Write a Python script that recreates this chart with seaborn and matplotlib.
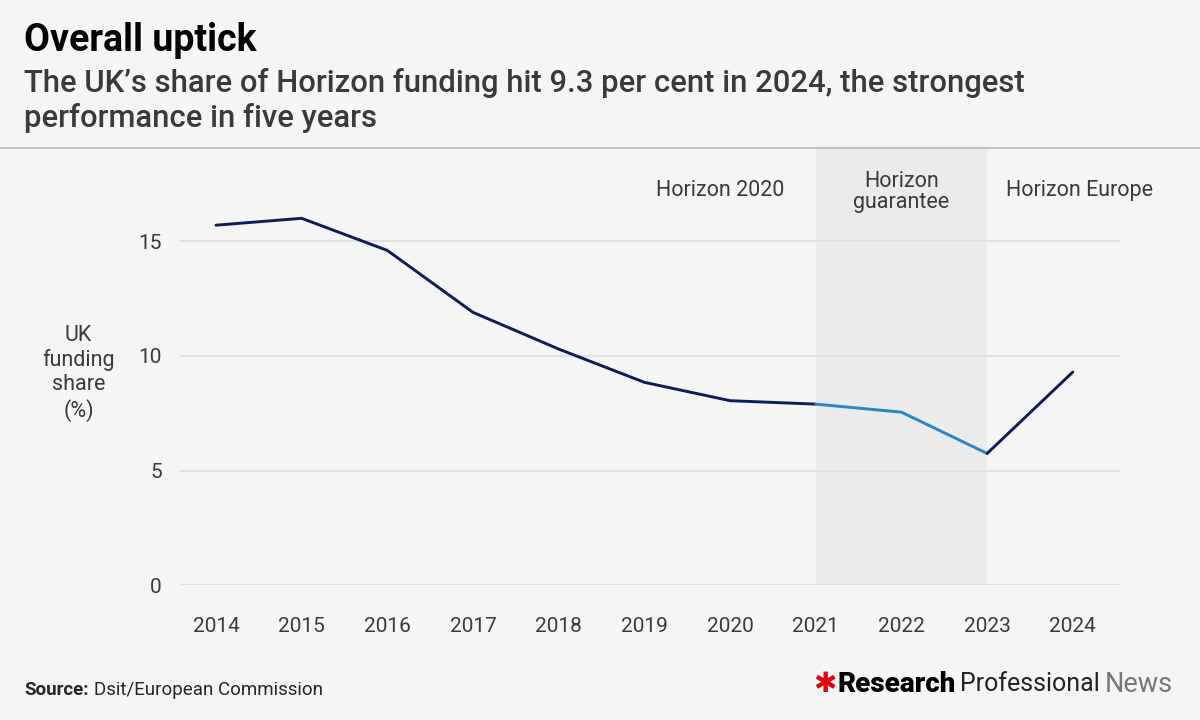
"""Line chart of the UK's share of Horizon funding, 2014-2024
"""

import matplotlib.pyplot as plt
import pandas as pd
import seaborn as sns

years = [2014, 2015, 2016, 2017, 2018, 2019, 2020, 2021, 2022, 2023, 2024]
share = [15.7, 16.0, 14.6, 11.9, 10.3, 8.85, 8.05, 7.9, 7.55, 5.75, 9.3]
# programme each point belongs to when drawing the line segments
segment = ["h2020"] * 8 + ["guarantee"] * 2 + ["europe"]
periods = ["Horizon 2020", "Horizon\nguarantee", "Horizon Europe"]
yticks = [0, 5, 10, 15]

BG = "#f5f5f5"
NAVY = "#0c1d5a"
BLUE = "#2a86c6"
GRID = "#dcdcdc"
TXT = "#3a3a3a"

sns.set_theme(style="white")
plt.rcParams["font.family"] = ["Roboto", "DejaVu Sans"]

df = pd.DataFrame({"year": years, "share": share, "seg": segment})

fig = plt.figure(figsize=(12, 7.2), dpi=100, facecolor=BG)
ax = fig.add_axes([0.15, 0.187, 0.7833, 0.6076], facecolor=BG)

# guarantee period shading
ax.axvspan(2021, 2023, color="#ebebeb", zorder=0, lw=0)

for v in yticks:
    ax.axhline(v, color=GRID, lw=1.1, zorder=1)

# segments: dark up to 2021, light blue 2021-2023, dark 2023-2024
seg1 = df.iloc[0:8]
seg2 = df.iloc[7:10]
seg3 = df.iloc[9:11]
sns.lineplot(data=seg1, x="year", y="share", color=NAVY, lw=2.1, ax=ax, zorder=3)
sns.lineplot(data=seg2, x="year", y="share", color=BLUE, lw=2.1, ax=ax, zorder=3)
sns.lineplot(data=seg3, x="year", y="share", color=NAVY, lw=2.1, ax=ax, zorder=3)

ax.set_xlim(2013.58, 2024.55)
ax.set_ylim(0, 19.07)
for s in ax.spines.values():
    s.set_visible(False)
ax.set_xticks(years)
ax.set_xticklabels([str(y) for y in years])
ax.set_yticks(yticks)
ax.tick_params(axis="x", length=14, width=1, color=GRID, pad=9,
               labelsize=15, labelcolor=TXT)
ax.tick_params(axis="y", length=0, pad=13, labelsize=15, labelcolor=TXT)
ax.set_xlabel("")
ax.set_ylabel("")

ax.text(-0.108, 0.485, "UK\nfunding\nshare\n(%)", transform=ax.transAxes,
        ha="center", va="center", fontsize=15.5, color=TXT, linespacing=1.2)

# period labels
ax.text(2019.88, 17.2, periods[0], ha="center", va="center", fontsize=15.5, color=TXT)
ax.text(2022, 17.15, periods[1], ha="center", va="center", fontsize=15.5, color=TXT,
        linespacing=1.0)
ax.text(2024.08, 17.2, periods[2], ha="center", va="center", fontsize=15.5, color=TXT)

# header
fig.text(0.02, 0.944, "Overall uptick", fontsize=27, fontweight="bold", color="black",
         va="center")
fig.text(0.02, 0.86, "The UK\u2019s share of Horizon funding hit 9.3 per cent in 2024, the strongest\n"
         "performance in five years", fontsize=22.3, color=TXT, va="center",
         linespacing=1.2, fontweight="medium")
fig.add_artist(plt.Line2D([0, 1], [0.7944, 0.7944], transform=fig.transFigure,
                          color="#bdbdbd", lw=1.3))

# footer
fig.text(0.02, 0.042, "Source:", fontsize=13.5, fontweight="bold", va="center")
fig.text(0.0785, 0.042, "Dsit/European Commission", fontsize=13.5, va="center")
fig.text(0.678, 0.05, "\u2731", fontsize=20, color="#e3000f", va="center",
         family=["DejaVu Sans"], fontweight="bold")
fig.text(0.698, 0.05, "Research", fontsize=20, fontweight="heavy", va="center", color="black")
fig.text(0.8, 0.05, "Professional", fontsize=18, va="center", color="#222222")
fig.text(0.921, 0.05, "News", fontsize=19.5, va="center", color="#777777")

plt.savefig("out.png", dpi=100, facecolor=BG)
